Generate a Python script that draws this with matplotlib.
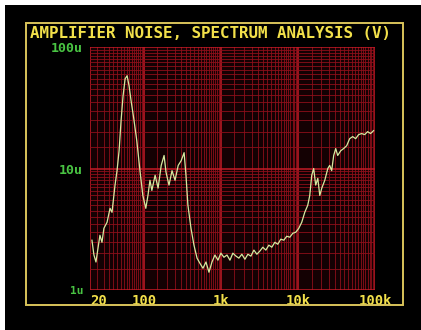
import numpy as np
import matplotlib
matplotlib.use('Agg')
import matplotlib.pyplot as plt
from matplotlib.patches import Rectangle
from matplotlib.ticker import LogLocator, NullFormatter

# spectrum: frequency (Hz) and noise (uV)
freq_hz = [21.2, 22.5, 23.9, 25.4, 26.9, 28.6, 30.3, 33.3, 36.4, 38.6,
           42.2, 44.9, 47.7, 50.6, 53.7, 57.1, 60.6, 64.3, 68.3, 74.0,
           81.0, 89.0, 97.0, 106, 113, 120, 127, 140, 153, 168,
           183, 194, 212, 232, 254, 279, 305, 333, 352, 373,
           409, 447, 490, 534, 585, 640, 700, 766, 836, 915,
           1000, 1095, 1200, 1310, 1430, 1570, 1710, 1870, 2050, 2240,
           2450, 2680, 2930, 3200, 3500, 3830, 4190, 4580, 5010, 5470,
           5990, 6550, 7160, 7840, 8570, 9370, 10250, 11200, 12260, 13400,
           14230, 15100, 16000, 17000, 18100, 19200, 20400, 22300, 24400, 25800,
           27400, 29100, 30900, 32800, 35900, 39200, 42900, 46900, 51300, 56100,
           61300, 67000, 73300, 80100, 87600, 95800]
noise_uv = [2.57, 1.94, 1.70, 2.21, 2.82, 2.47, 3.22, 3.61, 4.70, 4.36,
            7.26, 9.64, 14.0, 24.7, 39.5, 54.7, 58.0, 47.8, 36.0, 25.7,
            16.9, 9.6, 6.0, 4.70, 6.0, 8.0, 6.6, 8.8, 6.9, 10.6,
            12.8, 9.3, 7.3, 9.6, 8.0, 10.6, 11.6, 13.5, 8.8, 5.0,
            3.22, 2.34, 1.83, 1.66, 1.51, 1.70, 1.40, 1.70, 1.94, 1.76,
            2.01, 1.86, 1.94, 1.76, 2.01, 1.90, 1.83, 1.97, 1.79, 1.97,
            1.90, 2.13, 1.97, 2.09, 2.25, 2.13, 2.34, 2.25, 2.47, 2.38,
            2.62, 2.57, 2.77, 2.72, 2.93, 2.99, 3.22, 3.61, 4.36, 4.98,
            6.0, 8.8, 10.0, 7.3, 8.3, 6.0, 6.9, 8.0, 10.0, 10.6,
            9.6, 12.8, 14.6, 12.8, 14.0, 14.6, 15.4, 17.6, 18.3, 17.6,
            19.0, 19.4, 19.0, 20.1, 19.4, 20.5]

x_ticks = [20, 100, 1000, 10000, 100000]
x_labels = ['20', '100', '1k', '10k', '100k']
y_ticks = [1, 10, 100]
y_labels = ['1u', '10u', '100u']

title = 'AMPLIFIER NOISE, SPECTRUM ANALYSIS (V)'

YELLOW = '#f2e04a'
GREEN = '#49c443'
TRACE = '#d6eaa0'

fig = plt.figure(figsize=(4.21, 3.30), dpi=100)
fig.patch.set_facecolor('white')

# black screen with the photo's white edge at top/left
fig.add_artist(Rectangle((5 / 421, 0), 1, 1 - 5 / 330, transform=fig.transFigure,
                         facecolor='black', edgecolor='none', zorder=0))
# yellow screen border
fig.add_artist(Rectangle((26 / 421, 1 - 305 / 330), (403 - 26) / 421, (305 - 23) / 330,
                         transform=fig.transFigure, facecolor='none',
                         edgecolor='#d8c35a', lw=1.4, zorder=1))

fig.text(30 / 421, 1 - 33 / 330, title, color=YELLOW, fontsize=11.4,
         family='DejaVu Sans Mono', weight='bold', ha='left', va='center')

ax = fig.add_axes([90 / 421, 40 / 330, 285 / 421, 243 / 330])
ax.set_facecolor('#140103')
ax.set_xscale('log')
ax.set_yscale('log')
ax.set_xlim(20, 100000)
ax.set_ylim(1, 100)

ax.plot(freq_hz, noise_uv, color=TRACE, lw=0.9, zorder=5)

# dense red graticule
ax.xaxis.set_minor_locator(LogLocator(base=10, subs=np.arange(1, 10, 0.5), numticks=50))
ax.yaxis.set_minor_locator(LogLocator(base=10, subs=np.arange(1, 10, 0.5), numticks=50))
ax.xaxis.set_minor_formatter(NullFormatter())
ax.yaxis.set_minor_formatter(NullFormatter())
ax.grid(True, which='minor', color='#8e0f1a', lw=0.7, alpha=0.85)
ax.grid(True, which='major', color='#c41a26', lw=1.1)
ax.set_axisbelow(True)

for s in ax.spines.values():
    s.set_visible(False)

ax.set_xticks(x_ticks)
ax.set_xticklabels(x_labels)
ax.set_yticks(y_ticks)
ax.set_yticklabels(y_labels)
ax.tick_params(which='both', length=0)
ax.tick_params(axis='x', colors=YELLOW, labelsize=10, pad=3)
ax.tick_params(axis='y', colors=GREEN, labelsize=9.5, pad=5)
for lab in ax.get_xticklabels():
    lab.set_family('DejaVu Sans Mono')
    lab.set_weight('bold')
for lab in ax.get_yticklabels():
    lab.set_family('DejaVu Sans Mono')
    lab.set_weight('bold')
ax.get_xticklabels()[0].set_horizontalalignment('left')
ax.get_yticklabels()[0].set_fontsize(8)

fig.savefig('out.png', dpi=100, facecolor=fig.get_facecolor())
